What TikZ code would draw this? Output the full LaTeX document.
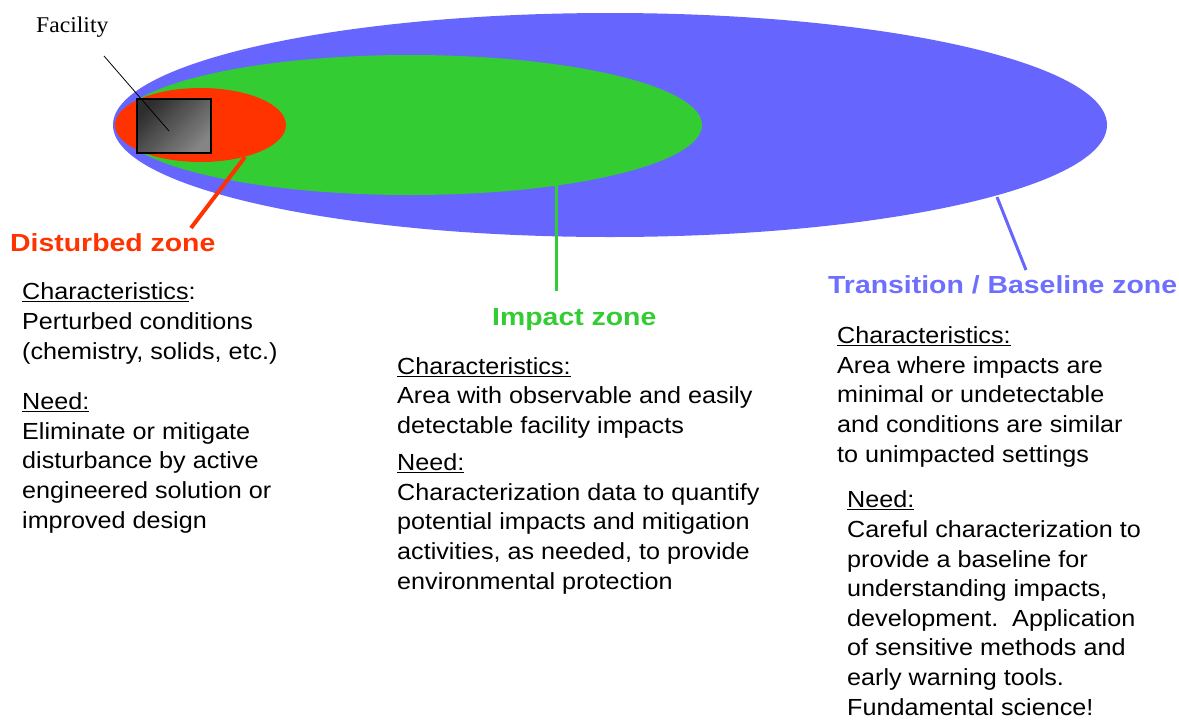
\documentclass[tikz,border=0pt]{standalone}
\usepackage{fontspec}
\setmainfont{Liberation Sans}
\newfontfamily\bodyfont[FakeStretch=1.08]{Liberation Sans}
\newfontfamily\headfont[FakeStretch=1.15]{Liberation Sans}
\newfontfamily\facfont[FakeStretch=1.05]{Liberation Serif}
\usepackage{xcolor}
\definecolor{zonered}{RGB}{255,51,0}
\definecolor{zonegreen}{RGB}{51,204,51}
\definecolor{zoneblue}{RGB}{102,102,255}
\tikzset{
    zonelabel/.style={anchor=base west, inner sep=0pt, font=\headfont\bfseries\fontsize{24.7}{30}\selectfont},
    zonetext/.style={anchor=base west, inner sep=0pt, align=left, font=\bodyfont\fontsize{23.3}{29.6}\selectfont},
    leader/.style={line width=3pt},
}

\begin{document}
\begin{tikzpicture}[x=1pt, y=-1pt]
    \useasboundingbox (0,0) rectangle (1179,721);
    \begin{scope}
        \fill[zoneblue] (610,125) ellipse (497pt and 112pt);    % transition / baseline
        \fill[zonegreen] (410,125) ellipse (292pt and 70pt);    % impact
        \fill[zonered] (200.5,125) ellipse (85.5pt and 37pt);   % disturbed
    \end{scope}
    \draw[line width=1.2pt, top color=black!82, bottom color=black!48, shading angle=45]
        (137,99) rectangle (211,153);
    \node (fac) at (36,32) [anchor=base west, inner sep=0pt, font=\facfont\fontsize{22.5}{26}\selectfont] {Facility};
    \coordinate (facfoot) at (104,56);
    \coordinate (facbox) at (169,131);
    \draw[line width=0.8pt] (facfoot) -- (facbox);

    % zone labels
    \node (dist) at (10,251) [zonelabel, zonered] {Disturbed zone};
    \node (imp) at (492,325) [zonelabel, zonegreen] {Impact zone};
    \node (trans) at (828,293) [zonelabel, zoneblue!95!white] {Transition / Baseline zone};

    \coordinate (rededge) at (245,157);
    \coordinate (redend) at (191,228);
    \coordinate (greenedge) at (556,185);
    \coordinate (greenend) at (556,291);
    \coordinate (blueedge) at (997,197);
    \coordinate (blueend) at (1026,270);
    \draw[leader, line width=4pt, zonered] (rededge) -- (redend);
    \draw[leader, zonegreen] (greenedge) -- (greenend);
    \draw[leader, zoneblue] (blueedge) -- (blueend);

    % text blocks (placed by the baseline of their last line)
    \node (distinfo) at (22,528) [zonetext] {\underline{Characteristics}:\\
        Perturbed conditions\\
        (chemistry, solids, etc.)\\[21pt]
        \underline{Need:}\\
        Eliminate or mitigate\\
        disturbance by active\\
        engineered solution or\\
        improved design};
    \node (impinfo) at (397,589) [zonetext] {\underline{Characteristics:}\\
        Area with observable and easily\\
        detectable facility impacts\\[7.5pt]
        \underline{Need:}\\
        Characterization data to quantify\\
        potential impacts and mitigation\\
        activities, as needed, to provide\\
        environmental protection};
    \node (transinfo) at (837,462) [zonetext] {\underline{Characteristics:}\\
        Area where impacts are\\
        minimal or undetectable\\
        and conditions are similar\\
        to unimpacted settings};
    \node (transneed) at (847,715) [zonetext] {\underline{Need:}\\
        Careful characterization to\\
        provide a baseline for\\
        understanding impacts,\\
        development.\ \ Application\\
        of sensitive methods and\\
        early warning tools.\\
        Fundamental science!};
\end{tikzpicture}
\end{document}
